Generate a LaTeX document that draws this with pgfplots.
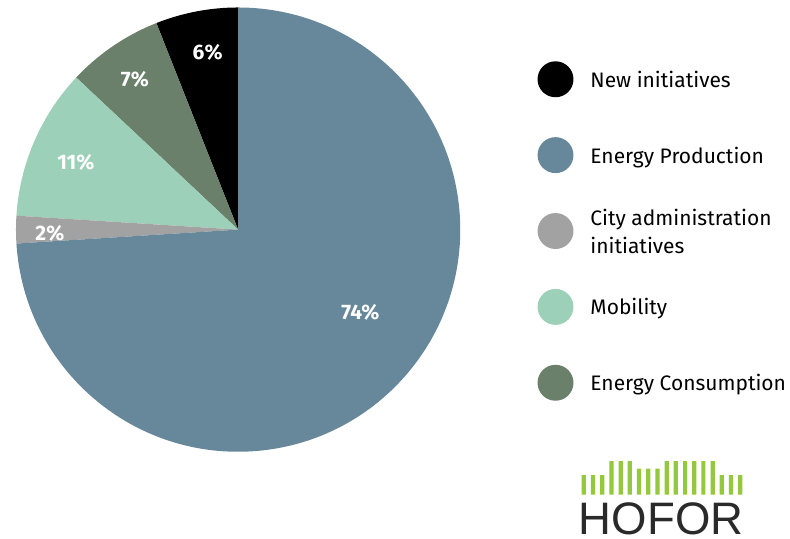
\documentclass[border=0pt]{standalone}
\usepackage{pgfplots}
\pgfplotsset{compat=1.18}
\usepackage{pgfplotstable}
\usepackage{fontspec}
\setmainfont{Fira Sans}
\newfontfamily\logofont{Liberation Sans}

\definecolor{colNew}{HTML}{000000}
\definecolor{colProd}{HTML}{67889A}
\definecolor{colCity}{HTML}{A2A2A2}
\definecolor{colMob}{HTML}{9DD0B8}
\definecolor{colCons}{HTML}{6B806A}
\definecolor{hoforgreen}{HTML}{95C93D}
\definecolor{hofortext}{HTML}{2A2A2A}

% slices counter-clockwise from 12 o'clock; lx/ly = label position (px)
\pgfplotstableread[col sep=comma]{
share,colour,lx,ly
6,colNew,208,52
7,colCons,135,80
11,colMob,76,163
2,colCity,50,234
74,colProd,361,313
}\piedata

\begin{document}
\begin{tikzpicture}
% 1 unit = 1 px of the reference = 0.5pt
\begin{axis}[
    scale only axis, width=395pt, height=269.5pt,
    xmin=0, xmax=790, ymin=-539, ymax=0,
    hide axis, clip=false,
    legend style={at={(axis cs:538,-41)}, anchor=north west,
        draw=none, fill=none, inner sep=0pt, row sep=0pt,
        font=\fontsize{10.5}{14}\selectfont,
        cells={anchor=base west}},
    legend image code/.code={
        \path[fill=none, draw=none] (0pt,-15pt) rectangle (24.5pt,23pt);
        \fill[#1] (9pt,4pt) circle[radius=9pt];},
]
% full picture frame as bounding box
\path[fill=none, draw=none] (axis cs:0,-539) rectangle (axis cs:790,0);
\pgfplotstablegetrowsof{\piedata}
\pgfmathtruncatemacro\lastrow{\pgfplotsretval-1}
\xdef\cumul{90}
\pgfplotsinvokeforeach{0,...,\lastrow}{
    \pgfplotstablegetelem{#1}{share}\of\piedata \let\share\pgfplotsretval
    \pgfplotstablegetelem{#1}{colour}\of\piedata \let\col\pgfplotsretval
    \pgfplotstablegetelem{#1}{lx}\of\piedata \let\lx\pgfplotsretval
    \pgfplotstablegetelem{#1}{ly}\of\piedata \let\ly\pgfplotsretval
    \pgfmathsetmacro\start{\cumul}
    \pgfmathsetmacro\stop{\cumul+3.6*\share}
    \edef\temp{\noexpand\fill[\col] (axis cs:238.5,-230) -- ++(\start:111.25pt)
        arc[start angle=\start, end angle=\stop, radius=111.25pt] -- cycle;}
    \temp
    \edef\temp{\noexpand\node[text=white, font=\noexpand\fontsize{10.5}{12}\noexpand\bfseries]
        at (axis cs:\lx,-\ly) {\share\noexpand\%};}
    \temp
    \xdef\cumul{\stop}
}
\addlegendimage{fill=colNew, draw=none}
\addlegendentry{New initiatives}
\addlegendimage{fill=colProd, draw=none}
\addlegendentry{Energy Production}
\addlegendimage{fill=colCity, draw=none}
\addlegendentry{\begin{tabular}[c]{@{}l@{}}City administration\\initiatives\end{tabular}}
\addlegendimage{fill=colMob, draw=none}
\addlegendentry{Mobility}
\addlegendimage{fill=colCons, draw=none}
\addlegendentry{Energy Consumption}

\node[anchor=base west, inner sep=0pt, text depth=0pt, text=hofortext,
      font=\logofont\fontsize{22.8}{24}\selectfont] at (axis cs:579.5,-535) {HOFOR};
\end{axis}

% logo bars
\begin{axis}[
    at={(291.25pt,21.75pt)}, anchor=south west,
    scale only axis, width=80pt, height=16.75pt,
    xmin=582.5, xmax=742.5, ymin=0, ymax=33.5,
    hide axis, clip=false,
    ybar, bar width=2.1pt, bar shift=0pt,
]
\addplot[fill=hoforgreen, draw=none] coordinates {
    (584.7,19.5) (594.0,19.5) (603.3,19.5)
    (612.5,33.5) (621.7,33.5) (630.8,33.5)
    (640.0,26.0) (649.3,26.0) (658.5,26.0)
    (667.8,33.5) (676.8,33.5) (686.2,33.5)
    (695.3,33.5) (704.5,33.5) (713.8,33.5)
    (723.0,19.5) (732.2,19.5) (741.5,19.5)
};
\end{axis}
\end{tikzpicture}
\end{document}
